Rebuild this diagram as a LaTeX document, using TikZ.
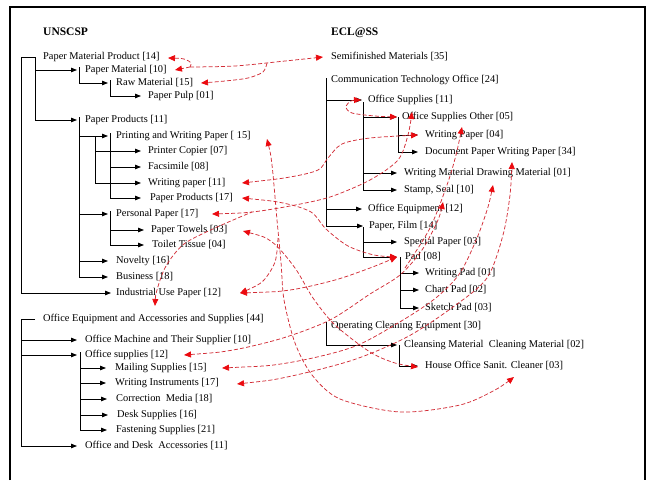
\documentclass[tikz,border=0pt]{standalone}
\usepackage{fontspec}
\setmainfont{Liberation Serif}
\usetikzlibrary{arrows.meta,calc}
\definecolor{rline}{RGB}{210,45,55}
\definecolor{rhead}{RGB}{235,10,15}
\begin{document}
\begin{tikzpicture}[x=1pt,y=-1pt,
 lbl/.style={anchor=west,inner sep=0pt,text height=7pt,text depth=2pt,font=\fontsize{10.4}{12}\selectfont},
 ttl/.style={lbl,font=\fontsize{11.5}{13}\selectfont\bfseries},
 tree/.style={draw=black,line width=0.8pt},
 tarr/.style={tree,-{Triangle[length=6pt,width=4.5pt]}},
 rc/.style={draw=rline,line width=0.75pt,dash pattern=on 4pt off 2.2pt},
 rboth/.style={rc,{Triangle[length=7pt,width=6pt,color=rhead]}-{Triangle[length=7pt,width=6pt,color=rhead]}},
 rend/.style={rc,-{Triangle[length=7pt,width=6pt,color=rhead]}},
 rstart/.style={rc,{Triangle[length=7pt,width=6pt,color=rhead]}-},
]
\useasboundingbox (0,0) rectangle (648,480);
% frame
\draw[line width=2.4pt] (10,480) -- (10,7) -- (645,7) -- (645,480);

% ---------- left column: UNSCSP ----------
\node[ttl] (u0) at (43,33) {UNSCSP};
\node[lbl] (a1) at (43,57) {Paper Material Product [14]};
\node[lbl] (a2) at (85,70) {Paper Material [10]};
\node[lbl] (a3) at (116,83) {Raw Material [15]};
\node[lbl] (a4) at (148,96) {Paper Pulp [01]};
\node[lbl] (b1) at (85,120) {Paper Products [11]};
\node[lbl] (b2) at (116,136) {Printing and Writing Paper [ 15]};
\node[lbl] (b3) at (148,151) {Printer Copier [07]};
\node[lbl] (b4) at (148,167) {Facsimile [08]};
\node[lbl] (b5) at (148,183) {Writing paper [11]};
\node[lbl] (b6) at (150,198) {Paper Products [17]};
\node[lbl] (b7) at (116,214) {Personal Paper [17]};
\node[lbl] (b8) at (151,230) {Paper Towels [03]};
\node[lbl] (b9) at (152,245) {Toilet Tissue [04]};
\node[lbl] (b10) at (116,261) {Novelty [16]};
\node[lbl] (b11) at (116,277) {Business [18]};
\node[lbl] (b12) at (116,293) {Industrial Use Paper [12]};
\node[lbl] (c1) at (43,319) {Office Equipment and Accessories and Supplies [44]};
\node[lbl] (c2) at (85,340) {Office Machine and Their Supplier [10]};
\node[lbl] (c3) at (85,355) {Office supplies [12]};
\node[lbl] (c4) at (115,368) {Mailing Supplies [15]};
\node[lbl] (c5) at (115,383) {Writing Instruments [17]};
\node[lbl] (c6) at (116,399) {Correction~ Media [18]};
\node[lbl] (c7) at (117,415) {Desk Supplies [16]};
\node[lbl] (c8) at (116,430) {Fastening Supplies [21]};
\node[lbl] (c9) at (85,446) {Office and Desk~ Accessories [11]};

% left tree
\draw[tree] ([xshift=-8pt]a1.west) -- (21,57);
\draw[tarr] (21,57) |- ([xshift=-5pt]b12.west);
\draw[tree] (35,57) -- (35,120);
\draw[tarr] (35,57) |- ([xshift=-8pt]a2.west);
\draw[tarr] (35,57) |- ([xshift=-8pt]b1.west);
\draw[tarr] (79,67) |- ([xshift=-8pt]a3.west);
\draw[tarr] (110,80) |- ([xshift=-7pt]a4.west);
\draw[tarr] (79,117) |- ([xshift=-8pt]b2.west);
\draw[tarr] (79,117) |- ([xshift=-8pt]b7.west);
\draw[tarr] (79,117) |- ([xshift=-8pt]b10.west);
\draw[tarr] (79,117) |- ([xshift=-8pt]b11.west);
\draw[tarr] (95,136) |- ([xshift=-7pt]b3.west);
\draw[tarr] (95,136) |- ([xshift=-7pt]b5.west);
\draw[tarr] (110,133) |- ([xshift=-7pt]b4.west);
\draw[tarr] (110,133) |- ([xshift=-9pt]b6.west);
\draw[tarr] (110,211) |- ([xshift=-7pt]b8.west);
\draw[tarr] (110,211) |- ([xshift=-8pt]b9.west);
\draw[tree] ([xshift=-8pt]c1.west) -- (21,319);
\draw[tarr] (21,319) |- ([xshift=-8pt]c2.west);
\draw[tarr] (21,319) |- ([xshift=-8pt]c3.west);
\draw[tarr] (21,319) |- ([xshift=-8pt]c9.west);
\draw[tarr] (80,352) |- ([xshift=-9pt]c4.west);
\draw[tarr] (80,352) |- ([xshift=-9pt]c5.west);
\draw[tarr] (80,352) |- ([xshift=-9pt]c6.west);
\draw[tarr] (80,352) |- ([xshift=-9pt]c7.west);
\draw[tarr] (80,352) |- ([xshift=-9pt]c8.west);

% ---------- right column: ECL@SS ----------
\node[ttl] (e0) at (331,33) {ECL@SS};
\node[lbl] (d1) at (331,57) {Semifinished Materials [35]};
\node[lbl] (d2) at (331,80) {Communication Technology Office [24]};
\node[lbl] (d3) at (368,100) {Office Supplies [11]};
\node[lbl] (d4) at (402,117) {Office Supplies Other [05]};
\node[lbl] (d5) at (425,135) {Writing Paper [04]};
\node[lbl] (d6) at (425,152) {Document Paper Writing Paper [34]};
\node[lbl] (d7) at (404,173) {Writing Material Drawing Material [01]};
\node[lbl] (d8) at (404,190) {Stamp, Seal [10]};
\node[lbl] (d9) at (368,209) {Office Equipment [12]};
\node[lbl] (d10) at (369,226) {Paper, Film [14]};
\node[lbl] (d11) at (404,242) {Special Paper [03]};
\node[lbl] (d12) at (405,257) {Pad [08]};
\node[lbl] (d13) at (425,273) {Writing Pad [01]};
\node[lbl] (d14) at (425,290) {Chart Pad [02]};
\node[lbl] (d15) at (425,308) {Sketch Pad [03]};
\node[lbl] (d16) at (331,326) {Operating Cleaning Equipment [30]};
\node[lbl] (d17) at (404,345) {Cleansing Material~ Cleaning Material [02]};
\node[lbl] (d18) at (425,366) {House Office Sanit. Cleaner [03]};

% right tree
\draw[tarr] (326,78) |- ([xshift=-6pt]d3.west);
\draw[tarr] (326,78) |- ([xshift=-6pt]d9.west);
\draw[tarr] (326,78) |- ([xshift=-6pt]d10.west);
\draw[tarr] (363,102) |- ([xshift=-5pt]d4.west);
\draw[tarr] (363,102) |- ([xshift=-7pt]d7.west);
\draw[tarr] (363,102) |- ([xshift=-7pt]d8.west);
\draw[tarr] (398,117) |- ([xshift=-7pt]d5.west);
\draw[tarr] (398,117) |- ([xshift=-7pt]d6.west);
\draw[tarr] (363,227) |- ([xshift=-7pt]d11.west);
\draw[tarr] (363,227) |- ([xshift=-8pt]d12.west);
\draw[tarr] (400,257) |- ([xshift=-6pt]d13.west);
\draw[tarr] (400,257) |- ([xshift=-6pt]d14.west);
\draw[tarr] (400,257) |- ([xshift=-6pt]d15.west);
\draw[tarr] (326,322) |- ([xshift=-7pt]d17.west);
\draw[tarr] (399,345) |- ([xshift=-7pt]d18.west);

% ---------- red mapping connectors ----------
\coordinate (tPMP) at (168,58);
\coordinate (tPM) at (175,70);
\coordinate (tRM) at (201,83);
\coordinate (tSemi) at (323,57);
\coordinate (J) at (190,67);
\coordinate (tOS11) at (361,100);
\coordinate (tOSO) at (397,117);
\coordinate (tWP11) at (242,183);
\coordinate (tWP04) at (418,135);
\coordinate (tPP17) at (242,198);
\coordinate (tPad) at (397,257);
\coordinate (tPersP) at (212,214);
\coordinate (tC1) at (155,306);
\coordinate (tR1) at (412,112);
\coordinate (tPWP) at (267,139);
\coordinate (tR6) at (514,377);
\coordinate (tPT) at (243,231);
\coordinate (tHOSC) at (418,367);
\coordinate (tInd) at (240,293);
\coordinate (tOSup) at (184,355);
\coordinate (tR5) at (443,202);
\coordinate (tMail) at (222,368);
\coordinate (tR4) at (493,185);
\coordinate (tWI) at (237,384);
\coordinate (tR3) at (512,162);
\coordinate (tR2) at (462,127);

\draw[rend] plot[smooth] coordinates {(J) (235,66) (285,61) (tSemi)};
\draw[rstart] plot[smooth] coordinates {(tPMP) (184,59) (191,63) (J)};
\draw[rend] (J) -- (tPM);
\draw[rend] plot[smooth] coordinates {(267,63) (263,72) (248,78) (225,81) (tRM)};
\draw[rboth] plot[smooth] coordinates {(tOS11) (351,101) (346,107) (352,113) (375,116) (tOSO)};
\draw[rboth] plot[smooth] coordinates {(tWP11) (290,177) (318,170) (328,158) (342,144) (370,138) (tWP04)};
\draw[rboth] plot[smooth] coordinates {(tPP17) (283,203) (311,212) (326,229) (348,246) (374,255) (tPad)};
\draw[rboth] plot[smooth] coordinates {(tPersP) (252,212) (290,206) (330,197) (370,180) (398,160) (408,135) (tR1)};
\draw[rstart] plot[smooth] coordinates {(tC1) (157,290) (166,266) (184,244) (215,228) (252,212)};
\draw[rboth] plot[smooth] coordinates {(tPWP) (272,165) (277,220) (281,262) (284,300) (295,343) (312,375) (340,399) (400,412) (460,405) (495,390) (tR6)};
\draw[rend] plot[smooth] coordinates {(278,238) (275,262) (262,282) (tInd)};
\draw[rboth] plot[smooth] coordinates {(tPT) (272,242) (295,268) (313,298) (335,325) (370,352) (395,363) (tHOSC)};
\draw[rboth] plot[smooth] coordinates {(tInd) (290,290) (335,280) (370,268) (tPad)};
\draw[rboth] plot[smooth] coordinates {(tOSup) (233,350) (283,338) (330,320) (370,294) (400,275) (422,250) (438,220) (tR5)};
\draw[rend] plot[smooth] coordinates {(405,268) (430,228) (447,185) (456,155) (tR2)};
\draw[rboth] plot[smooth] coordinates {(tMail) (287,363) (353,347) (403,320) (437,297) (460,273) (477,238) (488,207) (tR4)};
\draw[rboth] plot[smooth] coordinates {(tWI) (287,377) (353,360) (407,337) (453,307) (487,278) (503,235) (510,195) (tR3)};
\end{tikzpicture}
\end{document}
